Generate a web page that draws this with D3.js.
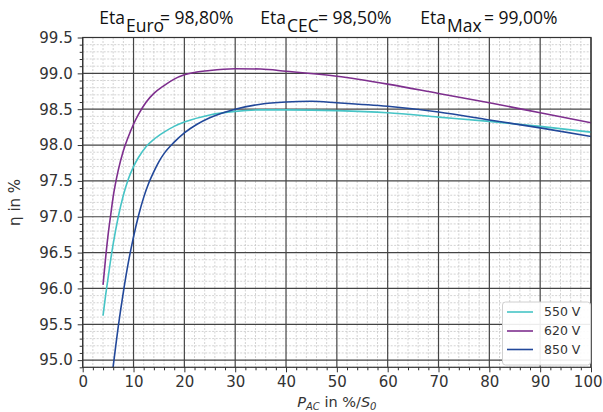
<!DOCTYPE html>
<html><head><meta charset="utf-8">
<script src="https://cdn.jsdelivr.net/npm/d3@7"></script>
<style>
html,body{margin:0;padding:0;background:#fff;}
svg{display:block;}
</style></head>
<body>
<svg id="chart" width="603" height="412"></svg>
<script>
// ---- data ----
const load550 = [4.0, 4.5, 5.0, 5.5, 6.0, 7.0, 8.0, 9.0, 10, 11, 12.5, 14, 16, 18, 20, 25, 30, 35, 40, 50, 60, 70, 80, 90, 100];
const eta550  = [95.62, 95.9, 96.15, 96.4, 96.62, 97.0, 97.3, 97.53, 97.7, 97.83, 97.98, 98.08, 98.18, 98.26, 98.32, 98.42, 98.47, 98.49, 98.49, 98.48, 98.45, 98.39, 98.33, 98.26, 98.18];
const load620 = [4.0, 4.5, 5.0, 5.5, 6.0, 7.0, 8.0, 9.0, 10, 11, 12.5, 14, 16, 18, 20, 25, 30, 35, 40, 50, 60, 70, 80, 90, 100];
const eta620  = [96.05, 96.42, 96.75, 97.02, 97.28, 97.65, 97.92, 98.12, 98.29, 98.43, 98.6, 98.72, 98.83, 98.92, 98.98, 99.04, 99.065, 99.06, 99.03, 98.96, 98.85, 98.72, 98.59, 98.45, 98.31];
const load850 = [5.8, 6.5, 7.0, 8.0, 9.0, 10, 11, 12, 13, 14, 15, 16, 18, 20, 22.5, 25, 30, 35, 40, 45, 50, 60, 70, 80, 90, 100];
const eta850  = [94.8, 95.2, 95.47, 95.95, 96.37, 96.72, 97.02, 97.27, 97.47, 97.63, 97.77, 97.88, 98.04, 98.17, 98.29, 98.38, 98.5, 98.57, 98.6, 98.61, 98.59, 98.54, 98.46, 98.35, 98.24, 98.12];
const seriesNames = ["550 V", "620 V", "850 V"];
const xTicks = [0, 10, 20, 30, 40, 50, 60, 70, 80, 90, 100];
const yTicks = [95.0, 95.5, 96.0, 96.5, 97.0, 97.5, 98.0, 98.5, 99.0, 99.5];
const titleMain = ["Eta", "Eta", "Eta"];
const titleSub = ["Euro", "CEC", "Max"];
const titleVal = ["= 98,80%", "= 98,50%", "= 99,00%"];

// ---- layout ----
const colors = ["#46c4c6", "#7e2f8e", "#22489a"];
const L = 82.7, R = 591, T = 37.5, B = 367.3;
const svg = d3.select("#chart");
const x = d3.scaleLinear().domain([0, 100]).range([L, R]);
const y = d3.scaleLinear().domain([94.9, 99.5]).range([B, T]);
const tickFont = "DejaVu Sans, sans-serif";

svg.append("defs").append("clipPath").attr("id", "clip")
  .append("rect").attr("x", L).attr("y", T).attr("width", R - L).attr("height", B - T);

// minor grid
const xMinor = d3.range(0, 100.001, 2).filter(v => v % 10 !== 0);
const yMinor = d3.range(949, 995.001, 1).map(v => v / 10).filter(v => Math.round(v * 10) % 5 !== 0);
const g = svg.append("g");
g.selectAll(".xm").data(xMinor).join("line")
  .attr("x1", d => x(d)).attr("x2", d => x(d)).attr("y1", T).attr("y2", B)
  .attr("stroke", "#c8c8c8").attr("stroke-width", 0.8).attr("stroke-dasharray", "2,1.5");
g.selectAll(".ym").data(yMinor).join("line")
  .attr("x1", L).attr("x2", R).attr("y1", d => y(d)).attr("y2", d => y(d))
  .attr("stroke", "#c8c8c8").attr("stroke-width", 0.8).attr("stroke-dasharray", "2,1.5");
// major grid
g.selectAll(".xM").data(xTicks).join("line")
  .attr("x1", d => x(d)).attr("x2", d => x(d)).attr("y1", T).attr("y2", B)
  .attr("stroke", "#444").attr("stroke-width", 1.2);
g.selectAll(".yM").data(yTicks).join("line")
  .attr("x1", L).attr("x2", R).attr("y1", d => y(d)).attr("y2", d => y(d))
  .attr("stroke", "#444").attr("stroke-width", 1.2);

// lines
const lineGen = d3.line().x(d => x(d[0])).y(d => y(d[1])).curve(d3.curveMonotoneX);
const allSeries = [
  d3.zip(load550, eta550),
  d3.zip(load620, eta620),
  d3.zip(load850, eta850)
];
const lg = svg.append("g").attr("clip-path", "url(#clip)");
allSeries.forEach((s, i) => {
  lg.append("path").datum(s).attr("d", lineGen)
    .attr("fill", "none").attr("stroke", colors[i]).attr("stroke-width", 1.6);
});

// frame
svg.append("rect").attr("x", L).attr("y", T).attr("width", R - L).attr("height", B - T)
  .attr("fill", "none").attr("stroke", "#333").attr("stroke-width", 1.2);

// axes
const xAxis = d3.axisBottom(x).tickValues(xTicks).tickFormat(d3.format("d")).tickSize(5).tickPadding(4);
const xa = svg.append("g").attr("transform", `translate(0,${B})`).call(xAxis);
xa.select(".domain").remove();
xa.selectAll("text").attr("font-family", tickFont).attr("font-size", 15).attr("fill", "#333")
  .filter(d => d === 100).attr("text-anchor", "end").attr("dx", 602 - R);
xa.selectAll("line").attr("stroke", "#333");
const xMinAxis = d3.axisBottom(x).tickValues(xMinor).tickFormat("").tickSize(3);
const xma = svg.append("g").attr("transform", `translate(0,${B})`).call(xMinAxis);
xma.select(".domain").remove();
xma.selectAll("line").attr("stroke", "#333");

const yAxis = d3.axisLeft(y).tickValues(yTicks).tickFormat(d3.format(".1f")).tickSize(5).tickPadding(5);
const ya = svg.append("g").attr("transform", `translate(${L},0)`).call(yAxis);
ya.select(".domain").remove();
ya.selectAll("text").attr("font-family", tickFont).attr("font-size", 15).attr("fill", "#333");
ya.selectAll("line").attr("stroke", "#333");
const yMinAxis = d3.axisLeft(y).tickValues(yMinor).tickFormat("").tickSize(3);
const yma = svg.append("g").attr("transform", `translate(${L},0)`).call(yMinAxis);
yma.select(".domain").remove();
yma.selectAll("line").attr("stroke", "#333");

// axis labels
const xl = svg.append("text").attr("x", (L + R) / 2).attr("y", 406.5)
  .attr("text-anchor", "middle").attr("font-family", tickFont).attr("font-size", 14.5).attr("fill", "#333");
xl.append("tspan").attr("font-style", "italic").text("P");
xl.append("tspan").attr("font-style", "italic").attr("font-size", 10).attr("dy", 3).text("AC");
xl.append("tspan").attr("dy", -3).text(" in %/");
xl.append("tspan").attr("font-style", "italic").text("S");
xl.append("tspan").attr("font-style", "italic").attr("font-size", 10).attr("dy", 3).text("0");

svg.append("text").attr("transform", `translate(20,${(T + B) / 2}) rotate(-90)`)
  .attr("text-anchor", "middle").attr("font-family", tickFont).attr("font-size", 15).attr("fill", "#333")
  .text("η in %");

// title
const titleFont = "Open Sans, sans-serif";
const subX = [126, 287, 447];
const valX = [160, 318, 484];
titleMain.forEach((m, i) => {
  svg.append("text").attr("x", subX[i] - 1).attr("y", 24).attr("text-anchor", "end")
    .attr("font-family", titleFont).attr("font-size", 17.5).attr("fill", "#111").text(m);
  svg.append("text").attr("x", subX[i]).attr("y", 32).attr("font-family", titleFont)
    .attr("font-size", 17.5).attr("fill", "#111").text(titleSub[i]);
  svg.append("text").attr("x", valX[i]).attr("y", 24).attr("font-family", titleFont)
    .attr("font-size", 17.5).attr("fill", "#111").text(titleVal[i]);
});

// legend
const lgX = 502.5, lgY = 302, lgW = 88, lgH = 63;
const leg = svg.append("g");
leg.append("rect").attr("x", lgX).attr("y", lgY).attr("width", lgW).attr("height", lgH)
  .attr("rx", 3).attr("fill", "#fff").attr("fill-opacity", 0.9).attr("stroke", "#d0d0d0");
const legY = [312, 331, 349.5];
seriesNames.forEach((n, i) => {
  leg.append("line").attr("x1", 507).attr("x2", 533).attr("y1", legY[i]).attr("y2", legY[i])
    .attr("stroke", colors[i]).attr("stroke-width", 1.6);
  leg.append("text").attr("x", 544).attr("y", legY[i]).attr("dy", "0.35em")
    .attr("font-family", tickFont).attr("font-size", 12.5).attr("fill", "#333").text(n);
});
</script>
</body></html>
